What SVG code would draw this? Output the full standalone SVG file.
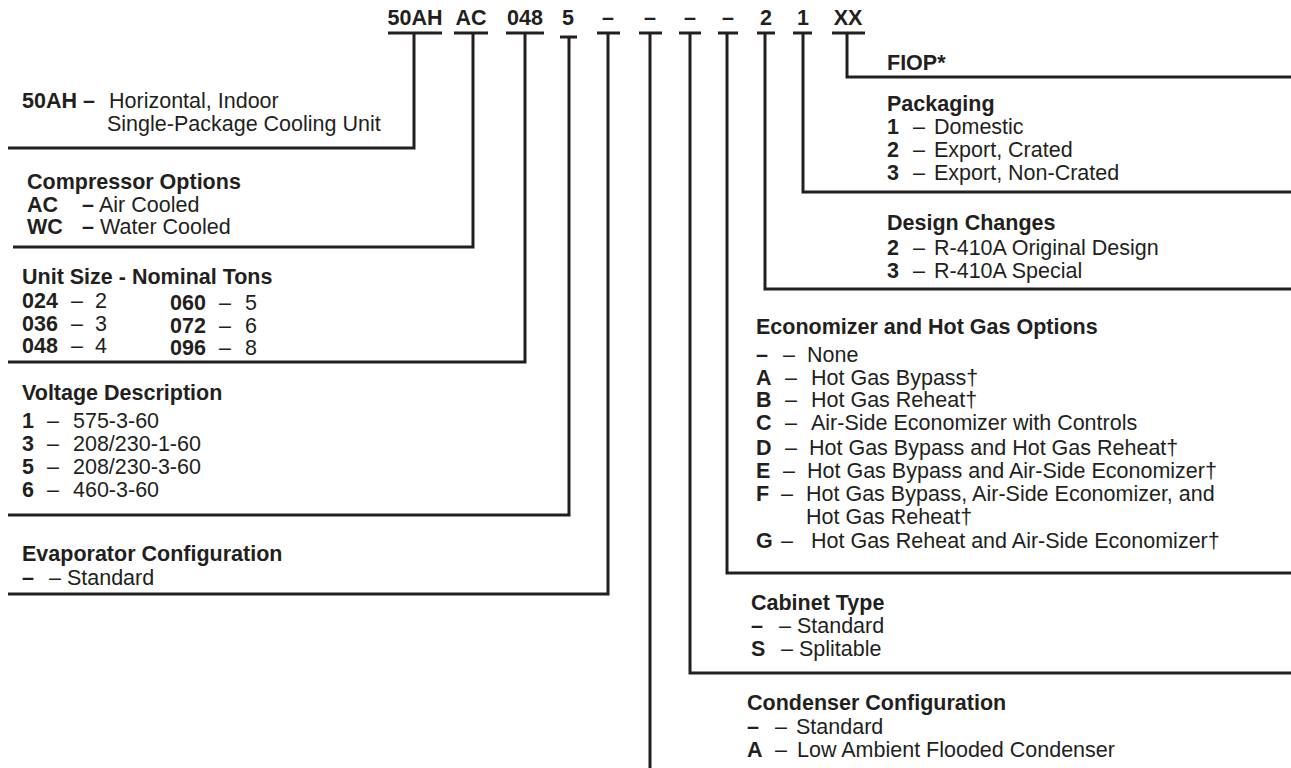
<svg xmlns="http://www.w3.org/2000/svg" width="1291" height="768" viewBox="0 0 1291 768">
<style>
.t{font-family:"Liberation Sans",Arial,Helvetica,sans-serif;font-size:21.5px;fill:#231f20}
.h{font-family:"Liberation Sans",Arial,Helvetica,sans-serif;font-size:21.5px;font-weight:bold;fill:#231f20;text-anchor:middle}
.b{font-weight:bold}
.ln{fill:none;stroke:#231f20;stroke-width:3;stroke-linejoin:miter}
</style>
<rect width="1291" height="768" fill="#ffffff"/>
<g id="code">
<text class="h" x="415" y="25">50AH</text>
<text class="h" x="471" y="25">AC</text>
<text class="h" x="525" y="25">048</text>
<text class="h" x="568" y="25">5</text>
<text class="h" x="608" y="25">–</text>
<text class="h" x="650" y="25">–</text>
<text class="h" x="690" y="25">–</text>
<text class="h" x="728" y="25">–</text>
<text class="h" x="766" y="25">2</text>
<text class="h" x="803" y="25">1</text>
<text class="h" x="848" y="25">XX</text>
</g>
<g id="connectors" class="ln">
<path d="M388,33H442M454,33H488M506,33H544M560,37H577M597,33H620M639,33H662M679,33H701M718,33H738M757,33H775M793,33H812M832,33H865"/>
<path d="M414,33V148H8"/>
<path d="M473,33V247H13"/>
<path d="M525,33V362H8"/>
<path d="M569,37V515H8"/>
<path d="M608,33V594H8"/>
<path d="M650,33V768"/>
<path d="M690,33V673H1291"/>
<path d="M727,33V573H1291"/>
<path d="M765,33V289H1291"/>
<path d="M803,33V192H1291"/>
<path d="M847,33V77H1291"/>
</g>
<g id="model">
<text class="t" x="22" y="108"><tspan class="b">50AH –</tspan><tspan x="109">Horizontal, Indoor</tspan></text>
<text class="t" x="107" y="131">Single-Package Cooling Unit</text>
</g>
<g id="compressor">
<text class="t b" x="27" y="189">Compressor Options</text>
<text class="t" x="27" y="211.5"><tspan class="b">AC</tspan><tspan class="b" x="82">–</tspan><tspan x="99">Air Cooled</tspan></text>
<text class="t" x="27" y="234"><tspan class="b">WC</tspan><tspan class="b" x="82">–</tspan><tspan x="100">Water Cooled</tspan></text>
</g>
<g id="unitsize">
<text class="t b" x="22" y="284">Unit Size - Nominal Tons</text>
<text class="t" x="22" y="308"><tspan class="b">024</tspan><tspan x="71">–</tspan><tspan x="95">2</tspan></text>
<text class="t" x="22" y="330.5"><tspan class="b">036</tspan><tspan x="71">–</tspan><tspan x="95">3</tspan></text>
<text class="t" x="22" y="353"><tspan class="b">048</tspan><tspan x="71">–</tspan><tspan x="95">4</tspan></text>
<text class="t" x="170" y="310"><tspan class="b">060</tspan><tspan x="219">–</tspan><tspan x="245">5</tspan></text>
<text class="t" x="170" y="332.5"><tspan class="b">072</tspan><tspan x="219">–</tspan><tspan x="245">6</tspan></text>
<text class="t" x="170" y="355"><tspan class="b">096</tspan><tspan x="219">–</tspan><tspan x="245">8</tspan></text>
</g>
<g id="voltage">
<text class="t b" x="22" y="400">Voltage Description</text>
<text class="t" x="22" y="428"><tspan class="b">1</tspan><tspan x="47">–</tspan><tspan x="73">575-3-60</tspan></text>
<text class="t" x="22" y="451"><tspan class="b">3</tspan><tspan x="47">–</tspan><tspan x="73">208/230-1-60</tspan></text>
<text class="t" x="22" y="474"><tspan class="b">5</tspan><tspan x="47">–</tspan><tspan x="73">208/230-3-60</tspan></text>
<text class="t" x="22" y="497"><tspan class="b">6</tspan><tspan x="47">–</tspan><tspan x="73">460-3-60</tspan></text>
</g>
<g id="evaporator">
<text class="t b" x="22" y="561">Evaporator Configuration</text>
<text class="t" x="22" y="585"><tspan class="b">–</tspan><tspan x="49">– Standard</tspan></text>
</g>
<g id="fiop">
<text class="t b" x="887" y="70">FIOP*</text>
</g>
<g id="packaging">
<text class="t b" x="887" y="111">Packaging</text>
<text class="t" x="887" y="134"><tspan class="b">1</tspan><tspan x="913">–</tspan><tspan x="934">Domestic</tspan></text>
<text class="t" x="887" y="157"><tspan class="b">2</tspan><tspan x="913">–</tspan><tspan x="934">Export, Crated</tspan></text>
<text class="t" x="887" y="180"><tspan class="b">3</tspan><tspan x="913">–</tspan><tspan x="934">Export, Non-Crated</tspan></text>
</g>
<g id="design">
<text class="t b" x="887" y="230">Design Changes</text>
<text class="t" x="887" y="255"><tspan class="b">2</tspan><tspan x="913">–</tspan><tspan x="934">R-410A Original Design</tspan></text>
<text class="t" x="887" y="278"><tspan class="b">3</tspan><tspan x="913">–</tspan><tspan x="934">R-410A Special</tspan></text>
</g>
<g id="economizer">
<text class="t b" x="756" y="334">Economizer and Hot Gas Options</text>
<text class="t" x="756" y="362"><tspan class="b">–</tspan><tspan x="783">–</tspan><tspan x="807">None</tspan></text>
<text class="t" x="756" y="384.5"><tspan class="b">A</tspan><tspan x="785">–</tspan><tspan x="811">Hot Gas Bypass†</tspan></text>
<text class="t" x="756" y="407"><tspan class="b">B</tspan><tspan x="785">–</tspan><tspan x="811">Hot Gas Reheat†</tspan></text>
<text class="t" x="756" y="430"><tspan class="b">C</tspan><tspan x="785">–</tspan><tspan x="811">Air-Side Economizer with Controls</tspan></text>
<text class="t" x="756" y="455"><tspan class="b">D</tspan><tspan x="785">–</tspan><tspan x="809">Hot Gas Bypass and Hot Gas Reheat†</tspan></text>
<text class="t" x="756" y="478"><tspan class="b">E</tspan><tspan x="783">–</tspan><tspan x="807">Hot Gas Bypass and Air-Side Economizer†</tspan></text>
<text class="t" x="756" y="501"><tspan class="b">F</tspan><tspan x="781">–</tspan><tspan x="806">Hot Gas Bypass, Air-Side Economizer, and</tspan></text>
<text class="t" x="806" y="524">Hot Gas Reheat†</text>
<text class="t" x="756" y="548"><tspan class="b">G</tspan><tspan x="781">–</tspan><tspan x="811">Hot Gas Reheat and Air-Side Economizer†</tspan></text>
</g>
<g id="cabinet">
<text class="t b" x="751" y="610">Cabinet Type</text>
<text class="t" x="751" y="633"><tspan class="b">–</tspan><tspan x="779">– Standard</tspan></text>
<text class="t" x="751" y="656"><tspan class="b">S</tspan><tspan x="781">– Splitable</tspan></text>
</g>
<g id="condenser">
<text class="t b" x="747" y="710">Condenser Configuration</text>
<text class="t" x="747" y="734"><tspan class="b">–</tspan><tspan x="775">–</tspan><tspan x="796">Standard</tspan></text>
<text class="t" x="747" y="757"><tspan class="b">A</tspan><tspan x="775">–</tspan><tspan x="797">Low Ambient Flooded Condenser</tspan></text>
</g>
</svg>
